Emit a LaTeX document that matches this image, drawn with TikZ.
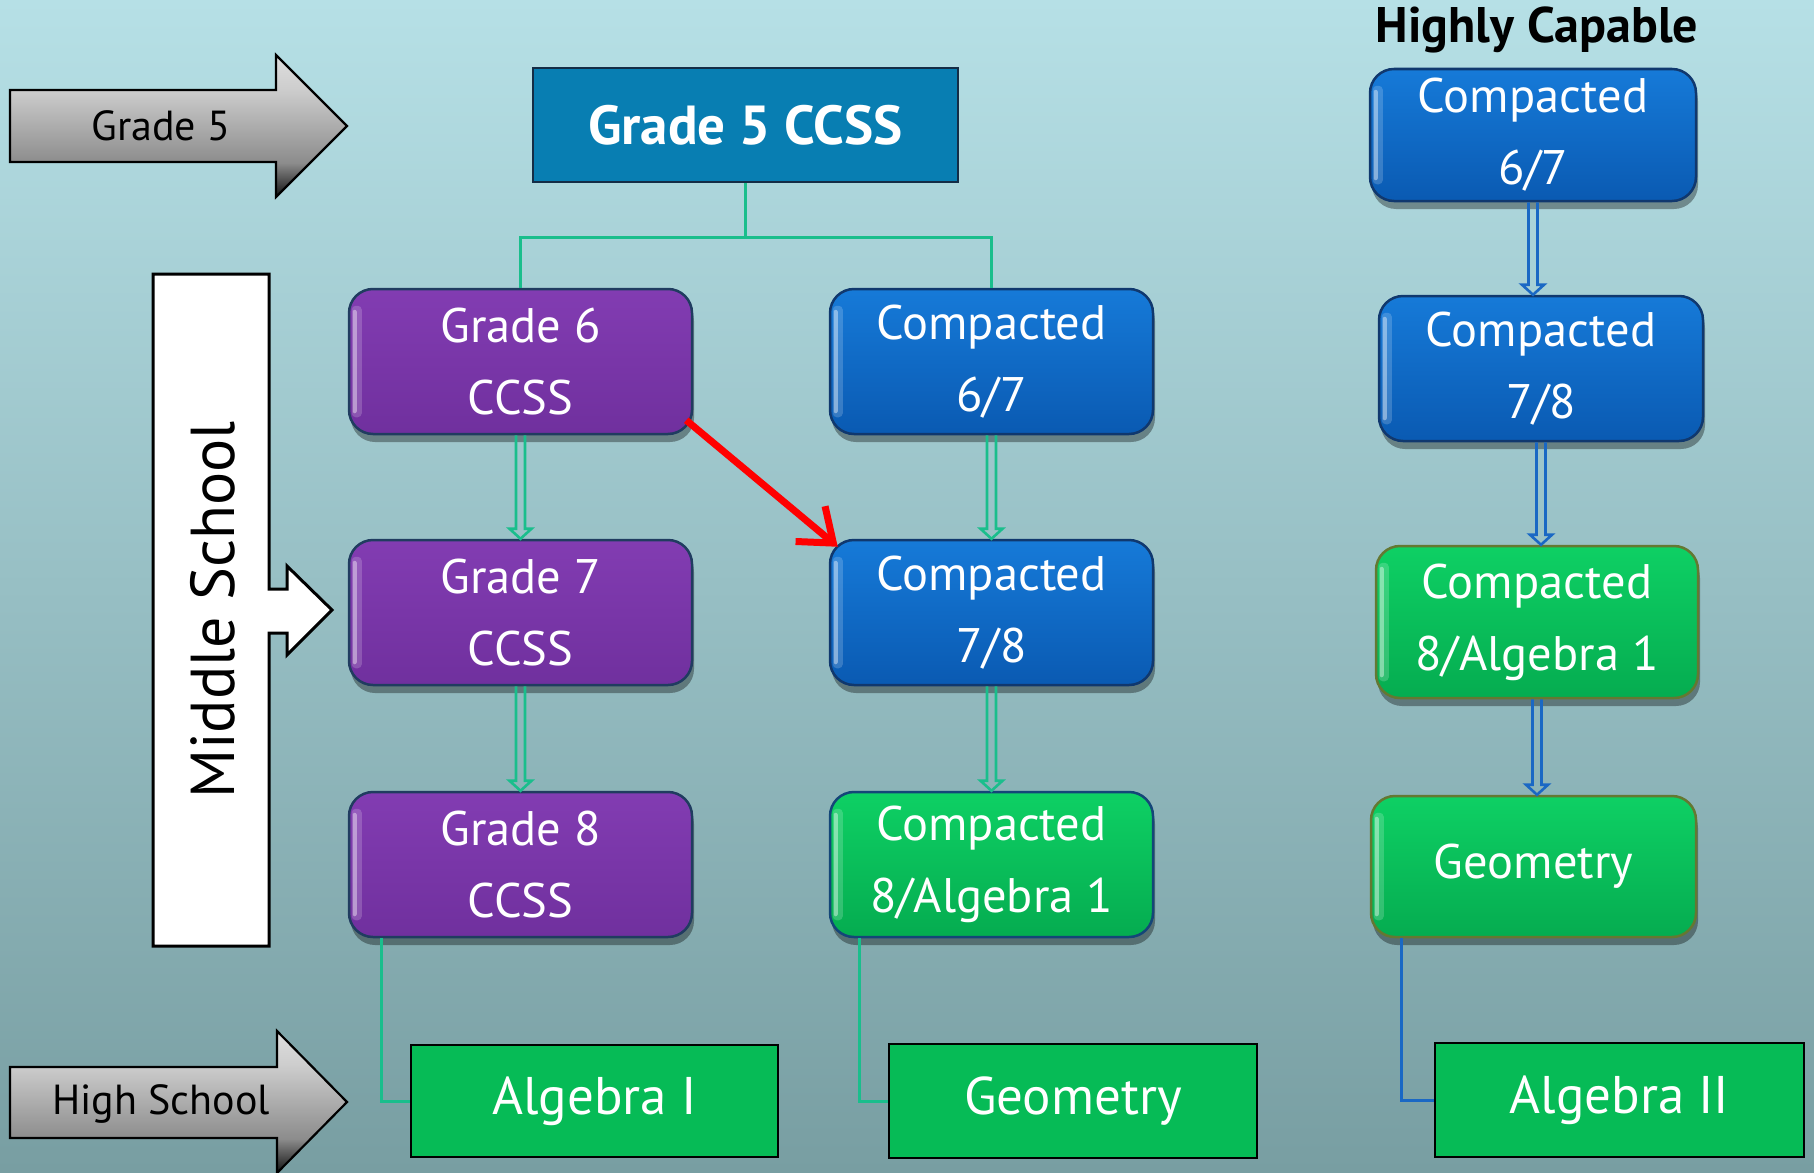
\documentclass[tikz,border=0pt]{standalone}
\usepackage{fontspec}
\setmainfont{PT Sans}
\usetikzlibrary{arrows.meta,calc,shadows}
\definecolor{bgtop}{RGB}{182,224,230}
\definecolor{bgbot}{RGB}{120,158,162}
\definecolor{purptop}{RGB}{130,60,178}
\definecolor{purpbot}{RGB}{112,48,158}
\definecolor{purpedge}{RGB}{32,60,96}
\definecolor{bluetop}{RGB}{22,122,216}
\definecolor{bluebot}{RGB}{10,90,178}
\definecolor{blueedge}{RGB}{16,56,110}
\definecolor{greentop}{RGB}{14,208,100}
\definecolor{greenbot}{RGB}{5,172,80}
\definecolor{greenedgeb}{RGB}{20,70,120}
\definecolor{greenedgeo}{RGB}{100,120,50}
\definecolor{hsgreen}{RGB}{6,187,86}
\definecolor{tealbox}{RGB}{8,126,178}
\definecolor{treeline}{RGB}{26,190,140}
\definecolor{blueline}{RGB}{26,104,196}
\definecolor{gtop}{RGB}{222,222,222}
\definecolor{gshafttop}{RGB}{205,205,205}
\definecolor{gshaftbot}{RGB}{140,140,140}
\definecolor{gbot}{RGB}{18,18,18}
\pgfdeclareverticalshading{greyfade}{100bp}{color(0bp)=(gbot); color(25bp)=(gbot);
  color(37bp)=(gshaftbot); color(63bp)=(gshafttop); color(75bp)=(gtop); color(100bp)=(gtop)}
\newcommand\boxfont{\fontsize{48.5}{72}\selectfont}
\newcommand\hollowarrow[3]{%
  \draw[#3, line width=2.6, line join=miter]
    ($(#1.south)+(-4.5,0)$) -- ($(#1.south |- #2.north)+(-4.5,-10)$)
    -- ($(#1.south |- #2.north)+(-11,-10)$) -- (#1.south |- #2.north)
    -- ($(#1.south |- #2.north)+(11,-10)$) -- ($(#1.south |- #2.north)+(4.5,-10)$)
    -- ($(#1.south)+(4.5,0)$);}
\begin{document}
\begin{tikzpicture}[x=1pt,y=-1pt,
  rbox/.style={rounded corners=24pt, line width=2.5, text=white, align=center,
    font=\boxfont, inner sep=0pt,
    drop shadow={shadow xshift=2pt, shadow yshift=-8pt, opacity=0.35, fill=black}},
  purplebox/.style={rbox, top color=purptop, bottom color=purpbot, draw=purpedge},
  bluebox/.style={rbox, top color=bluetop, bottom color=bluebot, draw=blueedge},
  greenbox/.style={rbox, top color=greentop, bottom color=greenbot, draw=greenedgeb},
  greenboxo/.style={rbox, top color=greentop, bottom color=greenbot, draw=greenedgeo},
  hsbox/.style={draw=black, line width=2.5, fill=hsgreen, text=white,
    font=\fontsize{53}{60}\selectfont, inner sep=0pt},
  tree/.style={draw=treeline, line width=3},
  treeblue/.style={draw=blueline, line width=3},
  greyarrow/.style={draw=black, line width=2.2, shading=greyfade},
  arrowlabel/.style={font=\fontsize{42}{48}\selectfont, text=black},
]
\useasboundingbox (0,0) rectangle (1814,1172);
\shade[top color=bgtop, bottom color=bgbot] (0,0) rectangle (1814,1172);

% side arrows
\path[greyarrow] (10,90) -- (276,90) -- (276,55) -- (347,126) -- (276,197) -- (276,162) -- (10,162) -- cycle;
\node[arrowlabel] (g5lab) at (161,126) {Grade 5};
\path[greyarrow] (10,1067) -- (277,1067) -- (277,1031) -- (347,1102) -- (277,1173) -- (277,1138) -- (10,1138) -- cycle;
\node[arrowlabel] (hslab) at (161,1104) {High School};

% middle school
\draw[fill=white, line width=3] (153,274) -- (269,274) -- (269,589) -- (287,589) -- (287,566)
  -- (332,610) -- (287,655) -- (287,633) -- (269,633) -- (269,946) -- (153,946) -- cycle;
\node[rotate=90, font=\fontsize{62}{64}\selectfont] (ms) at (213,610) {Middle School};

% top box
\node[draw={rgb,255:red,20;green,45;blue,70}, line width=2, fill=tealbox, text=white,
  font=\fontsize{55}{60}\selectfont\bfseries, minimum width=425, minimum height=114]
  (g5) at (745.5,125) {Grade 5 CCSS};
\node[font=\fontsize{50}{56}\selectfont\bfseries] (hc) at (1537,30) {Highly Capable};

% left column
\node[purplebox, minimum width=343, minimum height=145] (g6) at (520.5,361.5) {Grade 6\\CCSS};
\node[purplebox, minimum width=343, minimum height=145] (g7) at (520.5,612.5) {Grade 7\\CCSS};
\node[purplebox, minimum width=343, minimum height=145] (g8) at (520.5,864.5) {Grade 8\\CCSS};
% middle column
\node[bluebox, minimum width=323, minimum height=145] (c67) at (991.5,361.5) {Compacted\\6/7};
\node[bluebox, minimum width=323, minimum height=145] (c78) at (991.5,612.5) {Compacted\\7/8};
\node[greenbox, minimum width=323, minimum height=145] (c8a) at (991.5,864.5) {Compacted\\8/Algebra 1};
% right column
\node[bluebox, minimum width=326, minimum height=132] (r67) at (1533,135) {Compacted\\6/7};
\node[bluebox, minimum width=324, minimum height=145] (r78) at (1541,368.5) {Compacted\\7/8};
\node[greenboxo, minimum width=322, minimum height=152] (r8a) at (1537,622) {Compacted\\8/Algebra 1};
\node[greenboxo, minimum width=325, minimum height=141] (rgeo) at (1533.5,866.5) {Geometry};

% gleams
\foreach \n in {g6,g7,g8,c67,c78,c8a,r67,r78,r8a,rgeo}{
  \fill[white, opacity=0.18, rounded corners=4]
    ($(\n.north west)+(4,18)$) rectangle ($(\n.south west)+(14,-18)$);
  \fill[white, opacity=0.4, rounded corners=2]
    ($(\n.north west)+(5,22)$) rectangle ($(\n.south west)+(9,-22)$);
}

% high school boxes
\node[hsbox, minimum width=367, minimum height=112] (alg1) at (594.5,1101) {Algebra I};
\node[hsbox, minimum width=368, minimum height=114] (geom) at (1073,1101) {Geometry};
\node[hsbox, minimum width=369, minimum height=114] (alg2) at (1619.5,1100) {Algebra II};

% tree from grade 5
\coordinate (j) at ($(g5.south)+(0,54)$);
\draw[tree] (g5.south) -- (j) -| (g6.north);
\draw[tree] (j) -| (c67.north);

% hollow arrows
\hollowarrow{g6}{g7}{treeline}
\hollowarrow{g7}{g8}{treeline}
\hollowarrow{c67}{c78}{treeline}
\hollowarrow{c78}{c8a}{treeline}
\hollowarrow{r67}{r78}{blueline}
\hollowarrow{r78}{r8a}{blueline}
\hollowarrow{r8a}{rgeo}{blueline}

% red arrow
\draw[red, line width=7, -{Straight Barb[length=30pt, width=46pt, line width=7pt]}]
  ($(g6.south east)+(-7,-15)$) -- ($(c78.north west)+(9,8)$);

% bottom connectors
\draw[tree] ($(g8.south west)+(34,0)$) |- (alg1.west);
\draw[tree] ($(c8a.south west)+(31,0)$) |- (geom.west);
\draw[treeblue] ($(rgeo.south west)+(32,0)$) |- (alg2.west);
\end{tikzpicture}
\end{document}
